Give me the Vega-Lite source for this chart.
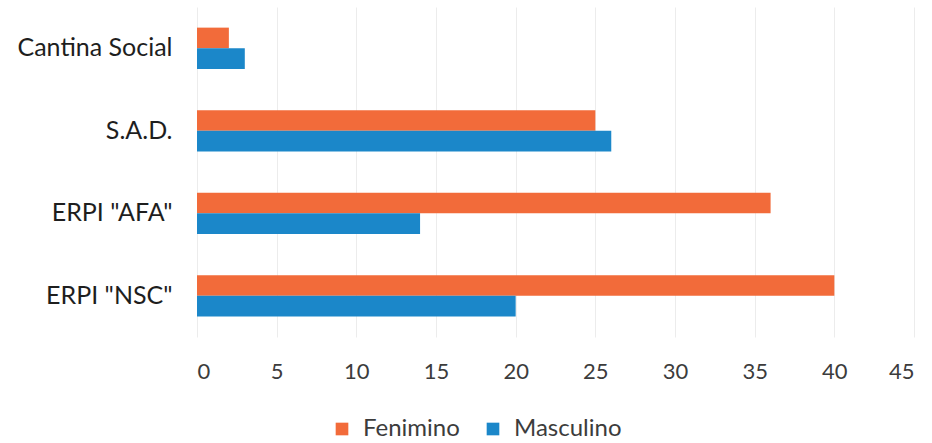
{
  "$schema": "https://vega.github.io/schema/vega-lite/v6.json",
  "width": 717,
  "height": 330,
  "autosize": {"type": "none"},
  "padding": {"left": 197, "top": 7, "right": 18, "bottom": 106},
  "background": "white",
  "data": {"values": [
    {"servico": "Cantina Social", "sexo": "Fenimino", "valor": 2},
    {"servico": "Cantina Social", "sexo": "Masculino", "valor": 3},
    {"servico": "S.A.D.", "sexo": "Fenimino", "valor": 25},
    {"servico": "S.A.D.", "sexo": "Masculino", "valor": 26},
    {"servico": "ERPI \"AFA\"", "sexo": "Fenimino", "valor": 36},
    {"servico": "ERPI \"AFA\"", "sexo": "Masculino", "valor": 14},
    {"servico": "ERPI \"NSC\"", "sexo": "Fenimino", "valor": 40},
    {"servico": "ERPI \"NSC\"", "sexo": "Masculino", "valor": 20}
  ]},
  "mark": {"type": "bar"},
  "encoding": {
    "y": {
      "field": "servico", "type": "nominal", "sort": null,
      "scale": {"paddingInner": 0.5, "paddingOuter": 0.25},
      "axis": {"title": null, "domain": false, "ticks": false, "labelFontSize": 25, "labelFont": "Lato", "labelColor": "#1e1e1e", "labelPadding": 25}
    },
    "yOffset": {"field": "sexo", "type": "nominal", "sort": ["Fenimino", "Masculino"], "scale": {"paddingInner": 0, "paddingOuter": 0}},
    "x": {
      "field": "valor", "type": "quantitative",
      "scale": {"domain": [0, 45], "nice": false},
      "axis": {"title": null, "values": [0,5,10,15,20,25,30,35,40,45], "domain": false, "ticks": false, "grid": true, "gridColor": "#ececec", "labelFontSize": 22, "labelFont": "Lato", "labelColor": "#3c3c3c", "labelPadding": 24}
    },
    "color": {
      "field": "sexo", "type": "nominal", "sort": ["Fenimino", "Masculino"],
      "scale": {"range": ["#F26B3A", "#1B87C9"]},
      "legend": {"title": null, "orient": "none", "direction": "horizontal", "legendX": 133, "legendY": 410, "symbolType": "square", "symbolSize": 160, "symbolStrokeWidth": 0, "labelFontSize": 24, "labelFont": "Lato", "labelColor": "#3c3c3c", "columnPadding": 21, "labelOffset": 9}
    }
  },
  "config": {"view": {"stroke": null}}
}
